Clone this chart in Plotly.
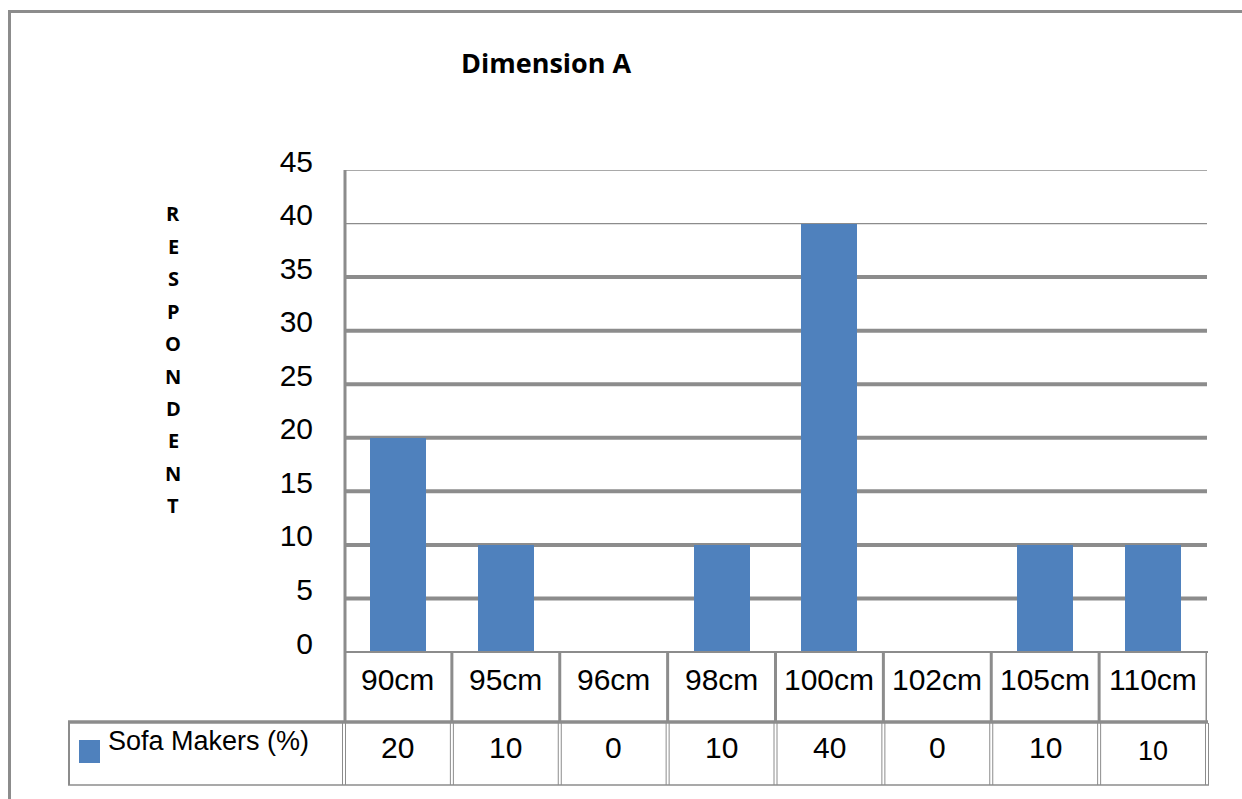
import plotly.graph_objects as go

# Chart data
title_text = "Dimension A"
axis_title = "RESPONDENT"
series_name = "Sofa Makers (%)"
categories = ["90cm", "95cm", "96cm", "98cm", "100cm", "102cm", "105cm", "110cm"]
values = [20, 10, 0, 10, 40, 0, 10, 10]
y_ticks = [0, 5, 10, 15, 20, 25, 30, 35, 40, 45]

W, H = 1242, 799
BAR_COLOR = "#4F81BD"
LINE_COLOR = "#8c8c8c"


def px(x):
    return x / W


def py(y):
    return 1 - y / H


# plot area in pixels
PX0, PX1 = 344, 1207
PY_TOP, PY_ZERO = 170, 652
ROW1_BOTTOM = 721     # bottom of category row
ROW2_BOTTOM = 785     # bottom of data row
TABLE_LEFT = 68

fig = go.Figure()
fig.add_trace(go.Bar(
    x=list(range(len(categories))), y=values, width=0.52,
    marker=dict(color=BAR_COLOR, line=dict(width=0)),
    name=series_name, showlegend=False, hoverinfo="skip",
))

shapes = []

# horizontal grid lines (heavy below 40, hairline above)
for v in y_ticks[1:]:
    heavy = v < 40
    shapes.append(dict(type="line", xref="paper", yref="y",
                       x0=px(PX0), x1=px(PX1), y0=v, y1=v, layer="below",
                       line=dict(color=LINE_COLOR, width=4 if heavy else 1.3)))

# outer frame
shapes.append(dict(type="rect", xref="paper", yref="paper",
                   x0=px(9.5), x1=px(W + 20), y0=py(H + 20), y1=py(11.5),
                   line=dict(color=LINE_COLOR, width=3), layer="below"))

# value axis line, continuing down the category row
shapes.append(dict(type="line", xref="paper", yref="paper",
                   x0=px(345), x1=px(345), y0=py(ROW1_BOTTOM), y1=py(PY_TOP),
                   line=dict(color=LINE_COLOR, width=3)))

# category row: top edge and cell dividers
shapes.append(dict(type="line", xref="paper", yref="paper",
                   x0=px(PX0), x1=px(PX1 + 1), y0=py(PY_ZERO), y1=py(PY_ZERO),
                   line=dict(color=LINE_COLOR, width=2)))
n = len(categories)
for i in range(1, n + 1):
    shapes.append(dict(type="line", xref="x", yref="paper",
                       x0=i - 0.5, x1=i - 0.5, y0=py(ROW1_BOTTOM), y1=py(PY_ZERO),
                       line=dict(color=LINE_COLOR, width=3)))

# separator between category row and data row
shapes.append(dict(type="line", xref="paper", yref="paper",
                   x0=px(TABLE_LEFT), x1=px(PX1 + 1), y0=py(722), y1=py(722),
                   line=dict(color=LINE_COLOR, width=3.5)))

# data row: bottom edge, left edge, double-line dividers
shapes.append(dict(type="line", xref="paper", yref="paper",
                   x0=px(TABLE_LEFT), x1=px(PX1 + 2), y0=py(ROW2_BOTTOM), y1=py(ROW2_BOTTOM),
                   line=dict(color=LINE_COLOR, width=1.5)))
shapes.append(dict(type="line", xref="paper", yref="paper",
                   x0=px(TABLE_LEFT + 1), x1=px(TABLE_LEFT + 1), y0=py(ROW2_BOTTOM), y1=py(722),
                   line=dict(color=LINE_COLOR, width=2)))
col_w = (PX1 - PX0) / n
for i in range(0, n + 1):
    xc = PX0 + i * col_w
    for dx in (-1.5, 1.5):
        shapes.append(dict(type="line", xref="paper", yref="paper",
                           x0=px(xc + dx), x1=px(xc + dx),
                           y0=py(ROW2_BOTTOM), y1=py(723),
                           line=dict(color=LINE_COLOR, width=1)))

# legend key square
shapes.append(dict(type="rect", xref="paper", yref="paper",
                   x0=px(79), x1=px(100), y0=py(763), y1=py(740),
                   fillcolor=BAR_COLOR, line=dict(width=0)))

annotations = []
# title
annotations.append(dict(text=f"<b>{title_text}</b>", xref="paper", yref="paper",
                        x=px(546), y=py(62), showarrow=False,
                        xanchor="center", yanchor="middle",
                        font=dict(family="Open Sans", size=27, color="#000")))

# stacked axis title letters
for k, ch in enumerate(axis_title):
    annotations.append(dict(text=f"<b>{ch}</b>", xref="paper", yref="paper",
                            x=px(173), y=py(214 + k * 32.4), showarrow=False,
                            xanchor="center", yanchor="middle",
                            font=dict(family="Open Sans", size=20, color="#000")))

# category labels
for i, c in enumerate(categories):
    annotations.append(dict(text=c, xref="x", yref="paper", x=i, y=py(679),
                            showarrow=False, xanchor="center", yanchor="middle",
                            font=dict(family="Liberation Sans", size=30, color="#000")))

# data row values
cell_font = [30] * (n - 1) + [27]
cell_y = [747] * (n - 1) + [751]
for i, v in enumerate(values):
    annotations.append(dict(text=str(v), xref="x", yref="paper", x=i, y=py(cell_y[i]),
                            showarrow=False, xanchor="center", yanchor="middle",
                            font=dict(family="Liberation Sans", size=cell_font[i], color="#000")))

# series name in the data row
annotations.append(dict(text=series_name, xref="paper", yref="paper",
                        x=px(106), y=py(741), showarrow=False,
                        xanchor="left", yanchor="middle",
                        font=dict(family="Liberation Sans", size=27, color="#000")))

fig.update_layout(
    width=W, height=H, autosize=False,
    margin=dict(l=0, r=0, t=0, b=0, pad=0, autoexpand=False),
    paper_bgcolor="white", plot_bgcolor="white",
    showlegend=False,
    shapes=shapes, annotations=annotations,
    xaxis=dict(domain=[px(PX0), px(PX1)], range=[-0.5, n - 0.5],
               showticklabels=False, showgrid=False, zeroline=False,
               showline=False, ticks="", fixedrange=True, automargin=False),
    yaxis=dict(domain=[py(PY_ZERO), py(PY_TOP)], range=[0, 45],
               tickvals=y_ticks, ticks="", showgrid=False, zeroline=False,
               showline=False, ticklabelstandoff=30, ticklabelshift=-9,
               fixedrange=True, automargin=False,
               tickfont=dict(family="Liberation Sans", size=30, color="#000")),
    bargap=0,
)

fig.write_html("out.html")
